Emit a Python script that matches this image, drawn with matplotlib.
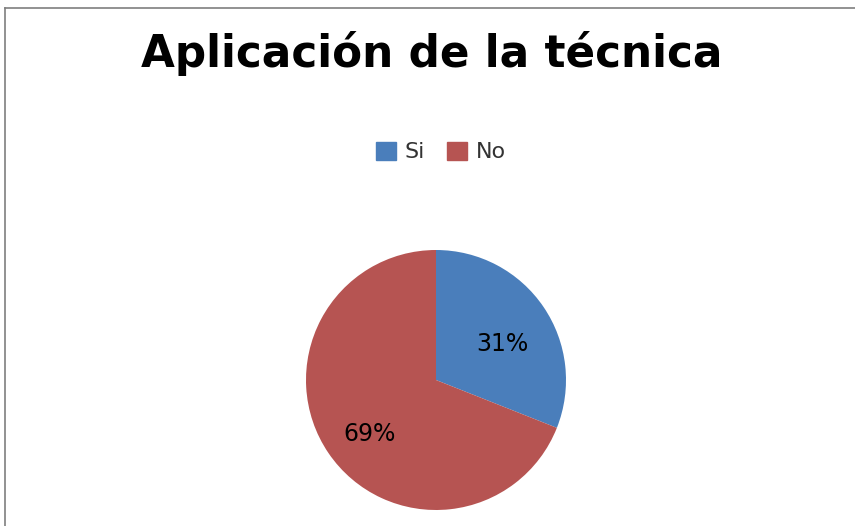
import matplotlib
matplotlib.use("Agg")
import matplotlib.pyplot as plt
from matplotlib.lines import Line2D
from matplotlib.patches import Rectangle

# Datos
categorias = ["Si", "No"]
valores = [31, 69]
colores = ["#4A7EBB", "#B65452"]
titulo = "Aplicación de la técnica"

W, H = 855, 526
fig = plt.figure(figsize=(W / 100, H / 100), dpi=100)
fig.patch.set_facecolor("white")

# Marco del gráfico (izquierda y arriba)
fig.add_artist(Line2D([5 / W, 5 / W], [0, 1 - 8 / H], transform=fig.transFigure,
                      color="#7f7f7f", lw=1.2))
fig.add_artist(Line2D([5 / W, 1], [1 - 8 / H, 1 - 8 / H], transform=fig.transFigure,
                      color="#7f7f7f", lw=1.2))

# Título
fig.text(432 / W, 1 - 53 / H, titulo, ha="center", va="center",
         fontsize=31.5, fontweight="bold", color="black", family="DejaVu Sans")

# Pastel
cx, cy, r = 436, 526 - 380, 130
ax = fig.add_axes([(cx - r) / W, (cy - r) / H, 2 * r / W, 2 * r / H])
wedges, textos, autotextos = ax.pie(
    valores, colors=colores, startangle=90, counterclock=False,
    autopct="%1.0f%%", pctdistance=0.62, radius=1,
    textprops={"fontsize": 17, "color": "black"})
# Etiquetas un poco más abajo, como en el original
for t in autotextos:
    x, y = t.get_position()
    t.set_position((x, y - 0.07))
ax.set_xlim(-1, 1)
ax.set_ylim(-1, 1)
ax.set_aspect("equal")
ax.axis("off")

# Leyenda
handles = [Rectangle((0, 0), 1, 1, color=c) for c in colores]
fig.legend(handles, categorias, loc="center", bbox_to_anchor=(441 / W, 1 - 152 / H),
           ncol=2, frameon=False, fontsize=16, handlelength=0.9, handleheight=0.9,
           handletextpad=0.4, columnspacing=1.0, labelcolor="#333333")

fig.savefig("out.png", dpi=100)
